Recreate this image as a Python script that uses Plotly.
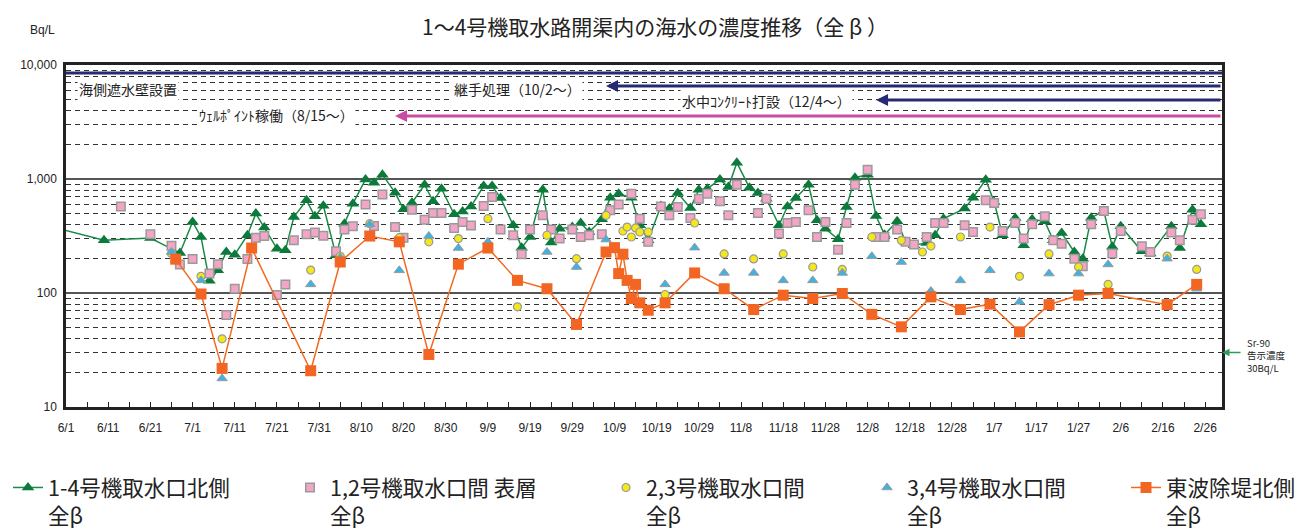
import plotly.graph_objects as go
import pandas as pd

# ---------------- data ----------------
north_dates = ["5/30", "6/10", "6/21", "6/28", "7/1", "7/3", "7/5", "7/7", "7/9", "7/11", "7/14", "7/16", "7/18",
               "7/21", "7/23", "7/25", "7/28", "7/30", "8/1", "8/4", "8/6", "8/8", "8/11", "8/13", "8/15", "8/18",
               "8/20", "8/22", "8/25", "8/27", "8/29", "9/1", "9/3", "9/5", "9/8", "9/10", "9/12", "9/15", "9/17",
               "9/19", "9/22", "9/24", "9/26", "9/29", "10/1", "10/3", "10/6", "10/8", "10/10", "10/13", "10/15",
               "10/17", "10/20", "10/22", "10/24", "10/27", "10/29", "10/31", "11/3", "11/5", "11/7", "11/10",
               "11/12", "11/14", "11/17", "11/19", "11/21", "11/24", "11/26", "11/28", "12/1", "12/3", "12/5",
               "12/8", "12/10", "12/12", "12/15", "12/17", "12/19", "12/22", "12/24", "12/26", "12/31", "1/2",
               "1/5", "1/7", "1/9", "1/12", "1/14", "1/16", "1/19", "1/21", "1/23", "1/26", "1/28", "1/30", "2/2",
               "2/4", "2/6", "2/11", "2/13", "2/18", "2/20", "2/23", "2/25"]
north_vals = [370, 290, 303, 224, 420, 310, 128, 158, 229, 217, 321, 497, 375, 245, 237, 463, 650, 471, 583, 214,
              406, 608, 991, 929, 1091, 759, 542, 620, 891, 637, 822, 490, 520, 575, 867, 867, 681, 393, 250, 310,
              806, 277, 367, 379, 411, 343, 443, 686, 743, 686, 393, 290, 580, 550, 753, 556, 806, 822, 991, 849,
              1390, 839, 753, 671, 393, 575, 681, 891, 434, 367, 296, 568, 1026, 1091, 473, 325, 425, 281, 262,
              275, 321, 449, 550, 686, 986, 628, 321, 455, 262, 443, 425, 290, 336, 229, 200, 458, 524, 254, 385,
              232, 222, 385, 248, 538, 400]

u12_dates = ["6/14", "6/21", "6/26", "6/28", "7/1", "7/5", "7/7", "7/9", "7/11", "7/14", "7/16", "7/18", "7/21",
             "7/23", "7/25", "7/28", "7/30", "8/1", "8/4", "8/6", "8/8", "8/11", "8/13", "8/15", "8/18", "8/20",
             "8/22", "8/25", "8/27", "8/29", "9/1", "9/3", "9/5", "9/8", "9/10", "9/12", "9/15", "9/17", "9/19",
             "9/22", "9/24", "9/26", "9/29", "10/1", "10/3", "10/6", "10/8", "10/10", "10/13", "10/15", "10/17",
             "10/20", "10/22", "10/24", "10/27", "10/29", "10/31", "11/3", "11/5", "11/7", "11/12", "11/14",
             "11/17", "11/19", "11/21", "11/24", "11/26", "11/28", "12/1", "12/3", "12/5", "12/8", "12/10",
             "12/12", "12/15", "12/17", "12/19", "12/22", "12/24", "12/26", "12/31", "1/2", "1/5", "1/7", "1/9",
             "1/12", "1/14", "1/16", "1/19", "1/21", "1/23", "1/26", "1/28", "1/30", "2/2", "2/4", "2/6", "2/11",
             "2/13", "2/18", "2/20", "2/23", "2/25"]
u12_vals = [575, 327, 260, 178, 199, 148, 179, 64, 109, 199, 306, 316, 96, 119, 290, 327, 340, 318, 232, 360, 385,
            598, 387, 733, 379, 306, 538, 440, 502, 502, 372, 420, 390, 580, 695, 360, 321, 219, 360, 480, 360,
            300, 360, 310, 321, 327, 531, 598, 743, 449, 281, 575, 480, 568, 455, 671, 743, 637, 480, 891, 502,
            671, 332, 411, 420, 531, 310, 420, 240, 411, 891, 1205, 310, 310, 360, 281, 267, 310, 411, 411, 393,
            343, 650, 615, 350, 411, 300, 400, 471, 290, 271, 200, 172, 400, 524, 222, 350, 257, 229, 339, 290,
            440, 490]

u23_dates = ["6/26", "7/3", "7/8", "7/29", "8/5", "8/12", "8/19", "8/26", "9/2", "9/9", "9/16", "9/23", "9/30",
             "10/7", "10/11", "10/12", "10/13", "10/14", "10/15", "10/17", "10/21", "10/28", "11/4", "11/11",
             "11/18", "11/25", "12/2", "12/9", "12/16", "12/21", "12/23", "12/30", "1/6", "1/13", "1/20", "1/27",
             "2/3", "2/17", "2/24"]
u23_vals = [222, 140, 39.6, 159, 210, 406, 306, 281, 300, 449, 75.6, 321, 200, 480, 350, 379, 310, 372, 343, 343,
            97, 411, 220, 199, 220, 169, 161, 310, 290, 229, 258, 310, 379, 140, 220, 169, 119, 211, 161]

u34_dates = ["6/26", "7/3", "7/8", "7/29", "8/5", "8/12", "8/19", "8/26", "9/2", "9/9", "9/23", "9/30", "10/7",
             "10/21", "10/28", "11/4", "11/11", "11/18", "11/25", "12/2", "12/9", "12/16", "12/23", "12/30", "1/6",
             "1/13", "1/20", "1/27", "2/3", "2/17", "2/24"]
u34_vals = [229, 129, 17.8, 119, 205, 400, 158, 316, 248, 281, 229, 169, 294, 119, 250, 150, 150, 129, 129, 150,
            210, 187, 104, 129, 158, 83.6, 148, 148, 178, 200, 109]

east_dates = ["6/27", "7/3", "7/8", "7/15", "7/29", "8/5", "8/12", "8/19", "8/26", "9/2", "9/9", "9/16", "9/23",
              "9/30", "10/7", "10/9", "10/10", "10/11", "10/12", "10/13", "10/14", "10/15", "10/17", "10/21",
              "10/28", "11/4", "11/11", "11/18", "11/25", "12/2", "12/9", "12/16", "12/23", "12/30", "1/6",
              "1/13", "1/20", "1/27", "2/3", "2/17", "2/24"]
east_vals = [198, 98, 21.8, 248, 20.8, 187, 316, 281, 28.9, 179, 248, 129, 109, 53, 229, 250, 148, 219, 129, 89.5,
             119, 82, 70.6, 82, 150, 109, 71.6, 95.7, 89.5, 99, 65, 50.5, 92.5, 71.6, 79.8, 45.6, 79, 95.7, 99,
             79, 119]

x_tick_labels = ["6/1", "6/11", "6/21", "7/1", "7/11", "7/21", "7/31", "8/10", "8/20", "8/30", "9/9", "9/19",
                 "9/29", "10/9", "10/19", "10/29", "11/8", "11/18", "11/28", "12/8", "12/18", "12/28", "1/7",
                 "1/17", "1/27", "2/6", "2/16", "2/26"]
y_tick_vals = [10, 100, 1000, 10000]
y_tick_text = ["10", "100", "1,000", "10,000"]

series_names = ["1-4号機取水口北側<br>全β", "1,2号機取水口間 表層<br>全β", "2,3号機取水口間<br>全β",
                "3,4号機取水口間<br>全β", "東波除堤北側<br>全β"]

events = ["継手処理（10/2～）", "水中ｺﾝｸﾘｰﾄ打設（12/4～）", "ｳｪﾙﾎﾟｲﾝﾄ稼働（8/15～）"]
event_arrow_tip = ["10/7", "12/10", "8/18"]


def to_date(md):
    m, d = (int(v) for v in md.split("/"))
    year = 2013 if m >= 5 else 2014
    return pd.Timestamp(year=year, month=m, day=d)


def dates(lst):
    return [to_date(s) for s in lst]


for a, b in [(north_dates, north_vals), (u12_dates, u12_vals), (u23_dates, u23_vals),
             (u34_dates, u34_vals), (east_dates, east_vals)]:
    assert len(a) == len(b)

X_START = pd.Timestamp("2013-06-01")
X_END = pd.Timestamp("2014-03-02")

# page body has an 8px margin: figure is drawn offset by 8px in the window
OFF = 8
W, H = 1310 - OFF, 530 - OFF
PLOT_L, PLOT_R, PLOT_T, PLOT_B = 66, 1222, 65, 407   # plot area in window pixels
L, T = PLOT_L - OFF, PLOT_T - OFF
R, B = W - (PLOT_R - OFF), H - (PLOT_B - OFF)
PW, PH = PLOT_R - PLOT_L, PLOT_B - PLOT_T


def px_x(px):
    return (px - PLOT_L) / PW


def px_y(py):
    return (PLOT_B - py) / PH


JP = "Noto Sans CJK JP"
LAT = "Liberation Sans"

fig = go.Figure()

fig.add_trace(go.Scatter(
    x=dates(north_dates), y=north_vals, mode="lines+markers", name=series_names[0],
    line=dict(color="#1b8a47", width=1.5),
    marker=dict(symbol="triangle-up", size=11, color="#0b7a3b", line=dict(width=0)),
    legend="legend"))
fig.add_trace(go.Scatter(
    x=dates(u12_dates), y=u12_vals, mode="markers", name=series_names[1],
    marker=dict(symbol="square", size=8.5, color="#f3a5c6", line=dict(color="#9a9a9a", width=1.5)),
    legend="legend2"))
fig.add_trace(go.Scatter(
    x=dates(u23_dates), y=u23_vals, mode="markers", name=series_names[2],
    marker=dict(symbol="circle", size=8, color="#f4e81a", line=dict(color="#9a9a9a", width=1.2)),
    legend="legend3"))
fig.add_trace(go.Scatter(
    x=dates(u34_dates), y=u34_vals, mode="markers", name=series_names[3],
    marker=dict(symbol="triangle-up", size=9, color="#3db3e3", line=dict(color="#9a9a9a", width=1)),
    legend="legend4"))
fig.add_trace(go.Scatter(
    x=dates(east_dates), y=east_vals, mode="lines+markers", name=series_names[4],
    line=dict(color="#f26a22", width=1.5),
    marker=dict(symbol="square", size=11, color="#f26522", line=dict(width=0)),
    legend="legend5"))

minor_y = [m * 10 ** k for k in (1, 2, 3) for m in range(2, 10)]

fig.update_yaxes(
    type="log", range=[1, 4],
    tickmode="array", tickvals=y_tick_vals, ticktext=y_tick_text,
    tickfont=dict(family=LAT, size=12, color="#222"),
    showgrid=True, gridcolor="#555", gridwidth=1.6,
    showline=True, linecolor="#222", linewidth=2.5, mirror=True,
    ticks="", ticklabelstandoff=4,
    minor=dict(tickvals=minor_y, showgrid=True, gridcolor="#333", gridwidth=1, griddash="5px,4px", ticks=""),
    zeroline=False,
)
fig.update_xaxes(
    type="date", range=[X_START, X_END],
    tickmode="array", tickvals=dates(x_tick_labels), ticktext=x_tick_labels,
    tickfont=dict(family=LAT, size=12, color="#222"),
    showgrid=False, ticks="inside", ticklen=5, tickcolor="#222", tickwidth=1,
    showline=True, linecolor="#222", linewidth=2.5, mirror=True,
    ticklabelstandoff=8,
    minor=dict(tickmode="linear", tick0=X_START, dtick=5 * 86400000, ticks="inside", ticklen=5,
               tickcolor="#222", showgrid=False),
)

shapes = [dict(type="line", xref="paper", yref="paper", x0=0, x1=1, y0=px_y(73), y1=px_y(73),
               line=dict(color="#262a75", width=3), layer="above")]

annotations = [
    dict(text="1～4号機取水路開渠内の海水の濃度推移（全 β ）", xref="paper", yref="paper",
         x=px_x(655), y=px_y(10), showarrow=False, font=dict(family=JP, size=21, color="#222"),
         xanchor="center", yanchor="top", borderpad=0),
    dict(text="Bq/L", xref="paper", yref="paper", x=px_x(42), y=px_y(30), showarrow=False,
         font=dict(family=LAT, size=12, color="#222"), xanchor="center", yanchor="middle"),
    dict(text="海側遮水壁設置", xref="paper", yref="paper", x=px_x(77), y=px_y(89), showarrow=False,
         font=dict(family=JP, size=14, color="#222"), xanchor="left", yanchor="middle", bgcolor="white"),
]

arrow_rows = [(86, "#262a75", 452, 89), (100, "#262a75", 680, 101), (116, "#c94da4", 197, 115)]
for (ly, col, tx, ty), label, tip in zip(arrow_rows, events, event_arrow_tip):
    annotations.append(dict(text=label, xref="paper", yref="paper", x=px_x(tx), y=px_y(ty), showarrow=False,
                            font=dict(family=JP, size=14, color="#222"), xanchor="left", yanchor="middle",
                            bgcolor="white"))
    annotations.append(dict(text="", xref="x", yref="paper", x=to_date(tip), y=px_y(ly),
                            axref="x", ax=X_END, ayref="pixel", ay=0, showarrow=True,
                            arrowhead=2, arrowsize=0.8, arrowwidth=3, arrowcolor=col))

# Sr-90 notice level marker
annotations.append(dict(text="", xref="paper", yref="y", x=1.0, y=1.4771, showarrow=True,
                        ax=20, ay=0, arrowhead=2, arrowsize=1, arrowwidth=1.5, arrowcolor="#2e9c5c"))
annotations.append(dict(text="Sr-90<br>告示濃度<br>30Bq/L", xref="paper", yref="paper", x=px_x(1245),
                        y=px_y(355), showarrow=False, align="left", xanchor="left", yanchor="middle",
                        font=dict(family=JP, size=9.5, color="#222")))

leg_common = dict(orientation="h", yanchor="top", xanchor="left", y=px_y(467), valign="top",
                  bgcolor="rgba(0,0,0,0)", font=dict(family=JP, size=21.5, color="#222"),
                  tracegroupgap=0, itemclick=False)
leg_x = [8, 290, 606, 867, 1126]

fig.update_layout(
    width=W, height=H, margin=dict(l=L, r=R, t=T, b=B, autoexpand=False),
    paper_bgcolor="white", plot_bgcolor="white",
    showlegend=True,
    shapes=shapes, annotations=annotations,
    legend=dict(leg_common, x=px_x(leg_x[0])),
    legend2=dict(leg_common, x=px_x(leg_x[1])),
    legend3=dict(leg_common, x=px_x(leg_x[2])),
    legend4=dict(leg_common, x=px_x(leg_x[3])),
    legend5=dict(leg_common, x=px_x(leg_x[4])),
)

fig.write_html("out.html")
